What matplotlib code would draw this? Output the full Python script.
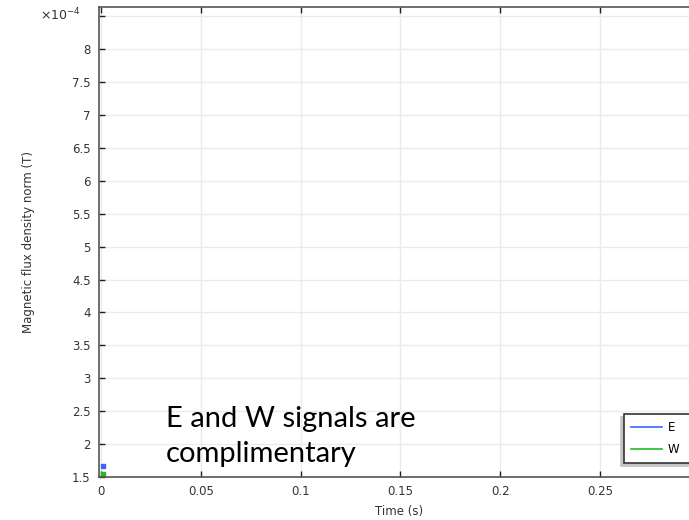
import matplotlib
matplotlib.use("Agg")
import matplotlib.pyplot as plt
from matplotlib.ticker import FuncFormatter, MultipleLocator

# Data (visible values)
time_E = [0.001]
bnorm_E = [1.67e-4]
time_W = [0.001]
bnorm_W = [1.54e-4]
series_names = ["E", "W"]
series_colors = ["#3c64ff", "#22bb22"]

x_ticks = [0, 0.05, 0.1, 0.15, 0.2, 0.25]

W, H = 689, 520
fig = plt.figure(figsize=(W / 100, H / 100), dpi=100)
ax = fig.add_axes([99 / W, 1 - 477 / H, (700 - 99) / W, (477 - 7) / H])

ax.plot(time_E, bnorm_E, color=series_colors[0], marker="s", markersize=3,
        linestyle="-", lw=1.2, label=series_names[0], clip_on=False)
ax.plot(time_W, bnorm_W, color=series_colors[1], marker="s", markersize=3,
        linestyle="-", lw=1.2, label=series_names[1], clip_on=False)

ax.set_xlim(-0.001, 0.3)
ax.set_ylim(1.5e-4, 8.64e-4)
ax.set_xticks(x_ticks)
ax.yaxis.set_major_locator(MultipleLocator(0.5e-4))
ax.xaxis.set_major_formatter(FuncFormatter(lambda v, p: f"{v:g}"))

def yfmt(v, p):
    s = round(v / 1e-4, 3)
    if s > 8.01:
        return ""
    return f"{s:g}"
ax.yaxis.set_major_formatter(FuncFormatter(yfmt))

ax.grid(True, color="#ebebeb", lw=1)
ax.set_axisbelow(True)
for s in ax.spines.values():
    s.set_color("#555555")
    s.set_linewidth(1.2)
ax.tick_params(direction="in", length=4, width=1, colors="#222222",
               labelsize=8.5, top=True, right=True, pad=6)
for lbl in ax.get_xticklabels() + ax.get_yticklabels():
    lbl.set_color("#333333")

ax.set_xlabel("Time (s)", fontsize=8.5, color="#333333", labelpad=5)
ax.set_ylabel("Magnetic flux density norm (T)", fontsize=8.5, color="#333333",
              labelpad=27)

fig.text(40 / W, 1 - 15 / H, "×10$^{-4}$", fontsize=9, color="#333333",
         ha="left", va="center")

leg = ax.legend(loc="upper left",
                bbox_to_anchor=(624 / W, 1 - 463 / H, 100 / W, 49 / H),
                mode="expand",
                bbox_transform=fig.transFigure, frameon=True, fancybox=False,
                shadow={"ox": -2, "oy": -2, "color": "#c4c4c4", "alpha": 1},
                fontsize=8.5, handlelength=2.6, borderpad=0.6,
                labelspacing=0.75, handletextpad=0.5, borderaxespad=0)
leg.get_frame().set_edgecolor("#333333")
leg.get_frame().set_linewidth(1.2)
for line in leg.get_lines():
    line.set_marker("")

fig.text(166 / W, 1 - 462 / H, "E and W signals are\ncomplimentary",
         fontsize=21, family="Lato", color="black", ha="left",
         va="baseline", linespacing=1.45)

fig.savefig("out.png", dpi=100)
